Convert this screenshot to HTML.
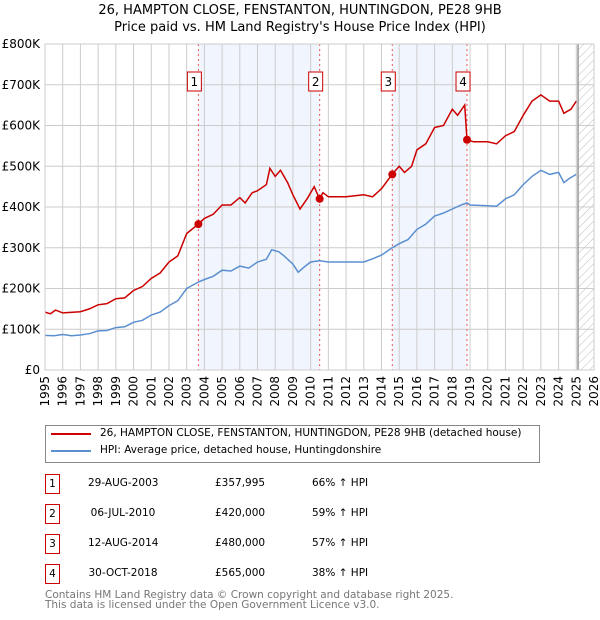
<!DOCTYPE html>
<html><head><meta charset="utf-8"><style>
body{margin:0;background:#fff;font-family:"DejaVu Sans","Liberation Sans",sans-serif;}
#wrap{position:relative;width:600px;height:620px;overflow:hidden}
.t{position:absolute;font-size:10.5px;color:#000;white-space:nowrap}
.box{position:absolute;width:13px;height:18px;border:1px solid #c00;font-size:10.5px;text-align:center;line-height:18px}
</style></head><body><div id="wrap">
<div class="t" style="left:0;width:600px;text-align:center;top:3px;font-size:13px">26, HAMPTON CLOSE, FENSTANTON, HUNTINGDON, PE28 9HB</div>
<div class="t" style="left:0;width:600px;text-align:center;top:20px;font-size:13px">Price paid vs. HM Land Registry's House Price Index (HPI)</div>
<svg id="ch" width="600" height="410" style="position:absolute;left:0;top:0"></svg>
<div style="position:absolute;left:45px;top:425px;width:493px;height:36px;border:1px solid #888"></div>
<div style="position:absolute;left:51px;top:433px;width:40px;height:2px;background:#c00"></div>
<div class="t" style="left:100px;top:427px">26, HAMPTON CLOSE, FENSTANTON, HUNTINGDON, PE28 9HB (detached house)</div>
<div style="position:absolute;left:51px;top:450px;width:40px;height:2px;background:#5b8fd0"></div>
<div class="t" style="left:100px;top:444px">HPI: Average price, detached house, Huntingdonshire</div>
<div id="tbl"></div>
<div class="t" style="left:45px;top:589px;color:#777">Contains HM Land Registry data © Crown copyright and database right 2025.</div>
<div class="t" style="left:45px;top:599px;color:#777">This data is licensed under the Open Government Licence v3.0.</div>
</div>
<script>
const hpiYears=[1995,1995.5,1996,1996.5,1997,1997.5,1998,1998.5,1999,1999.5,2000,2000.5,2001,2001.5,2002,2002.5,2003,2003.66,2004,2004.5,2005,2005.5,2006,2006.5,2007,2007.5,2007.8,2008.2,2008.5,2009,2009.3,2009.7,2010,2010.5,2011,2012,2013,2013.5,2014,2014.6,2015,2015.5,2016,2016.5,2017,2017.5,2018,2018.5,2018.83,2019,2020,2020.5,2021,2021.5,2022,2022.5,2023,2023.5,2024,2024.3,2024.6,2025];
const hpiValues=[85,84,87,84,86,89,96,97,104,106,117,122,135,142,158,170,200,216,222,230,245,243,255,250,265,272,295,290,280,260,240,255,265,268,265,265,265,273,282,300,310,320,345,358,378,385,395,405,410,405,403,402,420,430,455,475,490,480,485,460,470,480];
const propYears=[1995,1995.3,1995.6,1996,1997,1997.5,1998,1998.5,1999,1999.5,2000,2000.5,2001,2001.5,2002,2002.5,2003,2003.66,2004,2004.5,2005,2005.5,2006,2006.3,2006.7,2007,2007.5,2007.7,2008,2008.3,2008.7,2009,2009.4,2009.8,2010.2,2010.5,2010.7,2011,2012,2013,2013.5,2014,2014.6,2015,2015.3,2015.7,2016,2016.5,2017,2017.5,2018,2018.3,2018.7,2018.83,2019.2,2020,2020.5,2021,2021.5,2022,2022.5,2023,2023.5,2024,2024.3,2024.7,2025];
const propValues=[142,138,147,140,143,150,160,163,175,177,195,205,225,238,265,280,335,358,372,382,405,405,423,410,435,440,455,495,475,490,460,430,395,420,450,420,435,425,425,430,425,445,480,500,485,500,540,555,595,600,640,625,650,565,560,560,555,575,585,625,660,675,660,660,630,640,660];
const saleIds=["1","2","3","4"];
const saleYears=[2003.66,2010.51,2014.61,2018.83];
const saleValues=[358,420,480,565];
const saleDates=["29-AUG-2003","06-JUL-2010","12-AUG-2014","30-OCT-2018"];
const salePrices=["£357,995","£420,000","£480,000","£565,000"];
const saleHpi=["66% ↑ HPI","59% ↑ HPI","57% ↑ HPI","38% ↑ HPI"];
const yTicks=[0,100,200,300,400,500,600,700,800];
const yTickLabels=["£0","£100K","£200K","£300K","£400K","£500K","£600K","£700K","£800K"];
const x0=45,x1=594,y0=370,y1=44;
const X=v=>x0+(v-1995)*(x1-x0)/31;
const Y=v=>y0-(v/800)*(y0-y1);
const svg=document.getElementById('ch');const NS='http://www.w3.org/2000/svg';
function mk(t,a,parent){const e=document.createElementNS(NS,t);for(const k in a)e.setAttribute(k,a[k]);(parent||svg).appendChild(e);return e;}
const defs=mk('defs',{});
const pat=mk('pattern',{id:'hatch',width:6,height:6,patternUnits:'userSpaceOnUse',patternTransform:'rotate(45)'},defs);
mk('line',{x1:0,y1:0,x2:0,y2:6,stroke:'#bbb','stroke-width':1},pat);
[[0,1],[2,3]].forEach(p=>{const r=mk('rect',{x:X(saleYears[p[0]]),y:y1,width:X(saleYears[p[1]])-X(saleYears[p[0]]),height:y0-y1,fill:'#eef3fc',opacity:0.8});

});
const hr=mk('rect',{x:X(2025.1),y:y1,width:x1-X(2025.1),height:y0-y1,fill:'url(#hatch)'});


for(let yr=1995;yr<=2026;yr++){const l=mk('line',{x1:X(yr),x2:X(yr),y1:y1,y2:y0,stroke:'#ccc','stroke-width':1});


const tx=X(yr)+4,ty=376;
const t=mk('text',{x:tx,y:ty,'text-anchor':'end','font-size':12,fill:'#000',transform:'rotate(-90 '+tx+' '+ty+')'});t.textContent=yr;

}
yTicks.forEach((v,i)=>{const l=mk('line',{x1:x0,x2:x1,y1:Y(v),y2:Y(v),stroke:'#ccc','stroke-width':1});


const t=mk('text',{x:40,y:Y(v)+4,'text-anchor':'end','font-size':12,fill:'#000'});t.textContent=yTickLabels[i];

});
const vl=mk('line',{x1:X(2025.1),x2:X(2025.1),y1:y1,y2:y0,stroke:'#999','stroke-width':1.5});


saleYears.forEach((s,i)=>{const l=mk('line',{x1:X(s),x2:X(s),y1:y1,y2:y0,stroke:'#e55','stroke-width':1,'stroke-dasharray':'2,3'});


const r=mk('rect',{x:X(s)-11,y:72,width:14,height:19,fill:'#fff',stroke:'#c00','stroke-width':1});


const t=mk('text',{x:X(s)-4,y:86,'text-anchor':'middle','font-size':12});t.textContent=saleIds[i];

});
function path(xs,vs,c,name){const p=mk('path',{d:xs.map((x,i)=>(i?'L':'M')+X(x).toFixed(1)+','+Y(vs[i]).toFixed(1)).join(''),fill:'none',stroke:c,'stroke-width':1.5});

}
path(hpiYears,hpiValues,'#5b8fd0','hpi-line');
path(propYears,propValues,'#c00','property-price-line');
saleYears.forEach((s,i)=>{const c=mk('circle',{cx:X(s),cy:Y(saleValues[i]),r:4,fill:'#c00'});

});
mk('rect',{x:x0,y:y1,width:x1-x0,height:y0-y1,fill:'none',stroke:'#ccc'});
const tbl=document.getElementById('tbl');
saleIds.forEach((id,i)=>{const top=474+i*30;
const b=document.createElement('div');b.className='box';b.style.left='45px';b.style.top=top+'px';b.textContent=id;

tbl.appendChild(b);
[[saleDates[i],88,70,'center','table-date'],[salePrices[i],215,60,'left','table-price'],[saleHpi[i],312,80,'left','table-hpi-change']].forEach(c=>{
const d=document.createElement('div');d.className='t';d.style.left=c[1]+'px';d.style.width=c[2]+'px';d.style.textAlign=c[3];d.style.top=(top+3)+'px';d.textContent=c[0];

tbl.appendChild(d);});});
</script></body></html>
